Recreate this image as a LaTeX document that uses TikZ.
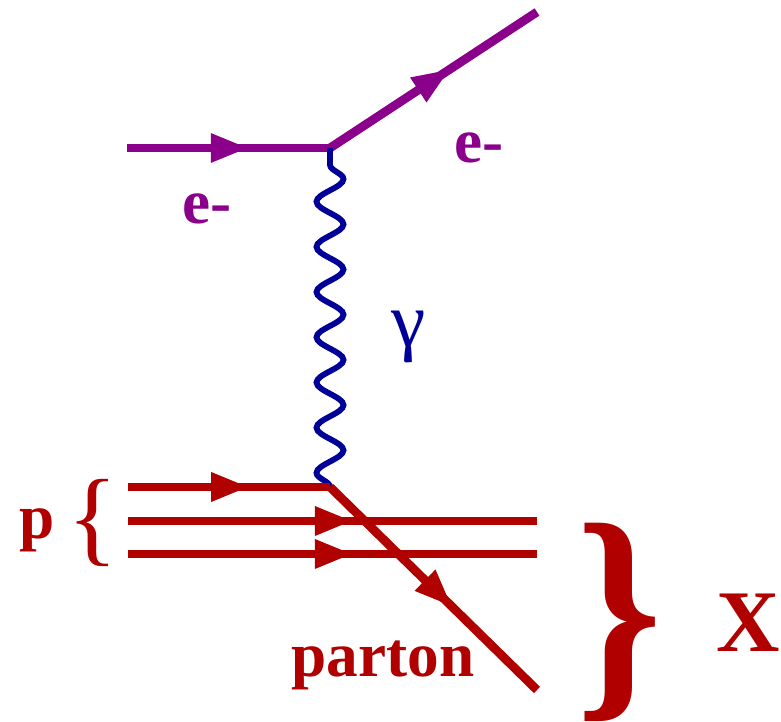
\documentclass[tikz,border=0pt]{standalone}
\usepackage{fontspec}
\setmainfont{Liberation Serif}
\usetikzlibrary{arrows.meta,decorations.pathmorphing,decorations.markings}
\definecolor{purpleHTML}{HTML}{8B008B}
\definecolor{redHTML}{HTML}{B00000}
\definecolor{blueHTML}{HTML}{000099}
\tikzset{
  arrow_at/.style={postaction={decorate}, decoration={markings, mark=at position #1 with {\arrow{Triangle[length=0.76cm, width=0.54cm]}}}},
  purple_edge/.style={line width=5pt, draw=purpleHTML},
  red_edge/.style={line width=5pt, draw=redHTML},
  photon_edge/.style={line width=3.3pt, draw=blueHTML, decorate, decoration={snake, segment length=0.904cm, amplitude=0.27cm}},
  purple_label/.style={text=purpleHTML, font=\bfseries\fontsize{36}{36}\selectfont},
  red_label/.style={text=redHTML, font=\bfseries\fontsize{36}{36}\selectfont},
  blue_label/.style={text=blueHTML, font=\fontsize{44}{44}\selectfont}
}
\begin{document}
\begin{tikzpicture}
        \useasboundingbox (0, 0) rectangle (15.62, 14.44);
        \coordinate (0) at (2.54, 11.48);
        \coordinate (1) at (6.6, 11.48);
        \coordinate (2) at (10.74, 14.2);
        \coordinate (3) at (6.6, 4.7);
        \coordinate (4) at (2.56, 4.7);
        \coordinate (5) at (2.56, 4.02);
        \coordinate (6) at (2.56, 3.36);
        \coordinate (7) at (10.74, 4.02);
        \coordinate (8) at (10.74, 3.36);
        \coordinate (9) at (10.74, 0.64);
        \draw[purple_edge, arrow_at=0.6] (0) -- (1);
        \draw[purple_edge, arrow_at=0.58] (1) -- (2);
        \draw[photon_edge] (3) -- (1);
        \draw[red_edge, arrow_at=0.6] (4) -- (3);
        \draw[red_edge, arrow_at=0.55] (5) -- (7);
        \draw[red_edge, arrow_at=0.55] (6) -- (8);
        \draw[red_edge, arrow_at=0.59] (3) -- (9);
        \node[purple_label] (20) at (4.14, 10.26) {e-};
        \node[purple_label] (21) at (9.58, 11.48) {e-};
        \node[blue_label] (22) at (8.18, 7.7) {γ};
        \node[red_label] (23) at (0.74, 3.84) {p};
        \node[red_label, font=\fontsize{60}{60}\selectfont] (24) at (1.86, 3.98) {\{};
        \node[red_label, inner sep=0pt, font=\bfseries\fontsize{124}{124}\selectfont] (25) at (12.38, 2.0) {\scalebox{1}[1.1]{\}}};
        \node[red_label, font=\bfseries\fontsize{50}{50}\selectfont] (26) at (14.96, 1.98) {X};
        \node[red_label] (27) at (7.66, 1.14) {parton};
\end{tikzpicture}
\end{document}
